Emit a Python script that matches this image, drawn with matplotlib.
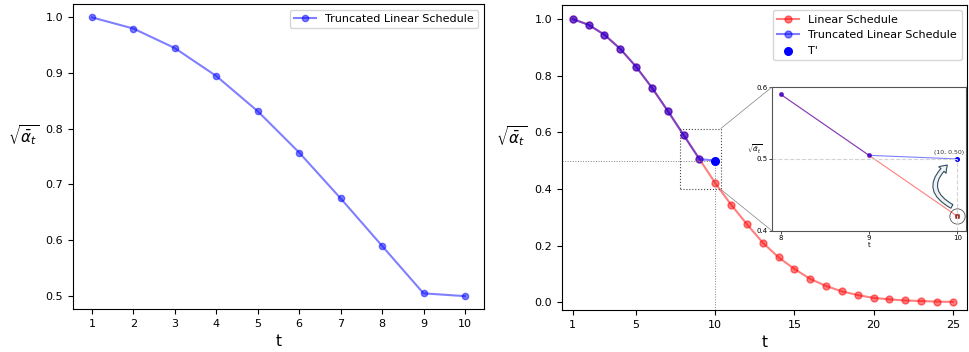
import matplotlib
matplotlib.use("Agg")
import matplotlib.pyplot as plt
from matplotlib.patches import Rectangle, ConnectionPatch, FancyArrowPatch
import numpy as np

# ---- data ----
t_trunc = [1, 2, 3, 4, 5, 6, 7, 8, 9, 10]
trunc_vals = [0.999, 0.979, 0.944, 0.894, 0.831, 0.757, 0.675, 0.590, 0.505, 0.500]

t_lin = list(range(1, 26))
lin_vals = [1.000, 0.979, 0.944, 0.894, 0.831, 0.757, 0.675, 0.590, 0.505, 0.420,
            0.344, 0.275, 0.210, 0.158, 0.117, 0.082, 0.057, 0.038, 0.025, 0.015,
            0.010, 0.006, 0.004, 0.002, 0.001]

t_prime = [10]
t_prime_val = [0.50]

right_xticks = [1, 5, 10, 15, 20, 25]
inset_xticks = [8, 9, 10]
inset_yticks = [0.4, 0.5, 0.6]

ylabel = r'$\sqrt{\bar{\alpha}_t}$'

fig = plt.figure(figsize=(9.69, 3.52), dpi=100)

# ---- left panel ----
ax1 = fig.add_axes([0.0753, 0.1222, 0.4242, 0.8664])
ax1.plot(t_trunc, trunc_vals, '-o', color='blue', alpha=0.5, markersize=4.5,
         linewidth=1.5, label='Truncated Linear Schedule')
ax1.set_xticks(t_trunc)
ax1.set_xlim(0.54, 10.46)
ax1.set_ylim(0.477, 1.023)
ax1.tick_params(labelsize=8)
ax1.set_xlabel('t', fontsize=11)
ax1.set_ylabel(ylabel, fontsize=11, rotation=0)
ax1.yaxis.set_label_coords(-0.119, 0.53)
ax1.legend(loc='upper right', fontsize=8)

# ---- right panel ----
ax2 = fig.add_axes([0.580, 0.119, 0.418, 0.8676])
ax2.plot(t_lin, lin_vals, '-o', color='red', alpha=0.5, markersize=5,
         linewidth=1.5, label='Linear Schedule')
ax2.plot(t_trunc, trunc_vals, '-o', color='blue', alpha=0.5, markersize=5,
         linewidth=1.5, label='Truncated Linear Schedule')
ax2.scatter(t_prime, t_prime_val, color='blue', s=30, zorder=5, label="T'")
xl = (0.32, 25.9)
yl = (-0.028, 1.05)
ax2.set_xlim(*xl)
ax2.set_ylim(*yl)
ax2.hlines(t_prime_val[0], xl[0], t_prime[0], colors='gray', linestyles=':', linewidth=0.7)
ax2.vlines(t_prime[0], yl[0], t_prime_val[0], colors='gray', linestyles=':', linewidth=0.7)
ax2.set_xticks(right_xticks)
ax2.tick_params(labelsize=8)
ax2.set_xlabel('t', fontsize=11)
ax2.set_ylabel(ylabel, fontsize=11, rotation=0)
ax2.yaxis.set_label_coords(-0.124, 0.53)
ax2.legend(loc='upper right', fontsize=8)

# ---- inset ----
axins = ax2.inset_axes([0.518, 0.26, 0.48, 0.47])
ix0, ix1, iy0, iy1 = 7.9, 10.1, 0.4, 0.6
axins.plot(t_lin[7:10], lin_vals[7:10], '-o', color='red', alpha=0.5,
           markersize=2.5, linewidth=0.8)
axins.plot(t_trunc[7:10], trunc_vals[7:10], '-o', color='blue', alpha=0.5,
           markersize=2.5, linewidth=0.8)
axins.plot(t_prime, t_prime_val, 'o', color='blue', markersize=2.5)
axins.plot([t_lin[9]], [lin_vals[9]], 'o', color='#cc3333', markersize=2.5)
axins.plot([t_lin[9]], [lin_vals[9]], 'x', color='#333333', markersize=3, markeredgewidth=0.5)
axins.plot([t_lin[9]], [lin_vals[9]], 'o', markerfacecolor='none', markeredgecolor='#333333',
           markersize=11, markeredgewidth=0.5)
axins.hlines(t_prime_val[0], ix0, t_prime[0], colors='lightgray', linestyles='--', linewidth=0.8)
axins.vlines(t_prime[0], iy0, t_prime_val[0], colors='lightgray', linestyles='--', linewidth=0.8)
axins.set_xlim(ix0, ix1)
axins.set_ylim(iy0, iy1)
axins.set_xticks(inset_xticks)
axins.set_yticks(inset_yticks)
axins.tick_params(labelsize=5, length=2, width=0.5, pad=1)
axins.set_xlabel('t', fontsize=5, labelpad=1)
axins.set_ylabel(ylabel, fontsize=5, rotation=0)
axins.yaxis.set_label_coords(-0.09, 0.53)
for s in axins.spines.values():
    s.set_color('#555555')
    s.set_linewidth(0.8)
axins.annotate('(10, 0.50)', xy=(t_prime[0], t_prime_val[0]), xytext=(-6, 3),
               textcoords='offset points', ha='center', va='bottom', fontsize=4.5,
               color='#333333')
arrow = FancyArrowPatch((9.965, 0.432), (9.91, 0.494),
                        connectionstyle='arc3,rad=-0.75',
                        arrowstyle='simple,head_width=7,head_length=5,tail_width=3',
                        facecolor='#eef2f4', edgecolor='#2f4f5f', linewidth=0.8,
                        mutation_scale=1)
axins.add_patch(arrow)

# zoom rectangle and connectors
pad_x, pad_y = 0.16, 0.008
rx0, rx1, ry0, ry1 = ix0 - pad_x, ix1 + 2 * pad_x - 0.07, iy0 - pad_y / 4, iy1 + pad_y + 0.005
rect = Rectangle((rx0, ry0), rx1 - rx0, ry1 - ry0, fill=False, edgecolor='#444444',
                 linestyle=':', linewidth=0.8)
ax2.add_patch(rect)
for (cx, cy), (axx, axy) in [((rx1, ry1), (0, 1)), ((rx1, ry0), (0, 0))]:
    con = ConnectionPatch(xyA=(cx, cy), coordsA=ax2.transData,
                          xyB=(axx, axy), coordsB=axins.transAxes,
                          color='gray', linewidth=0.5)
    fig.add_artist(con)

fig.savefig('out.png', dpi=100)
